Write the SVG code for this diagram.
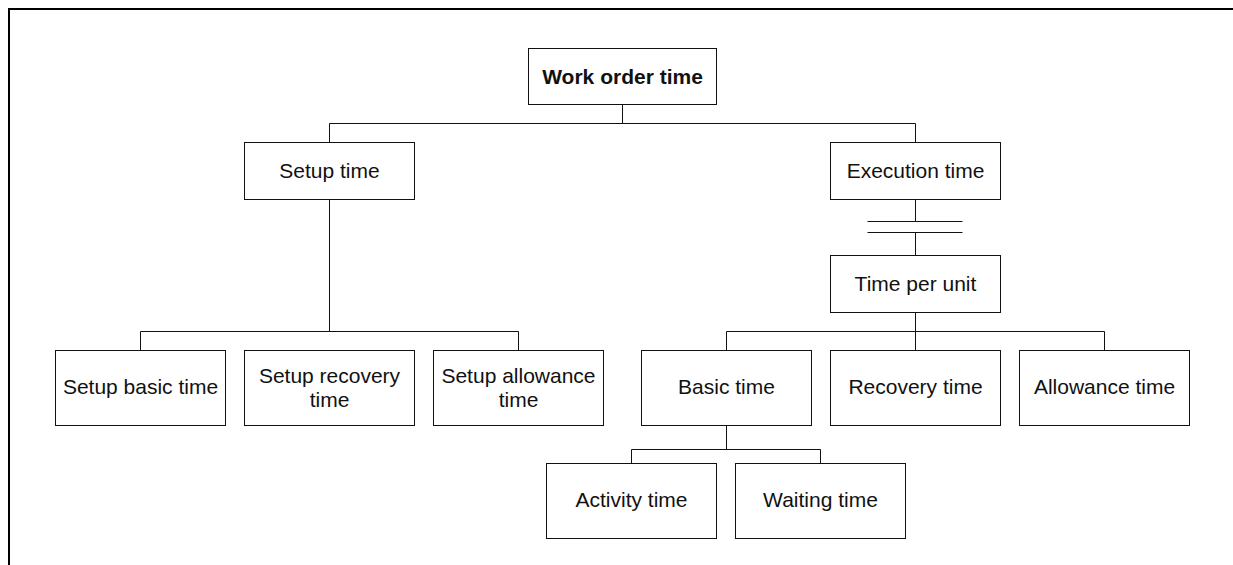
<svg xmlns="http://www.w3.org/2000/svg" width="1233" height="565" viewBox="0 0 1233 565">
  <style>
    .box { fill: #ffffff; stroke: #111111; stroke-width: 1; }
    .lbl { font-family: "Liberation Sans", Arial, sans-serif; font-size: 21px; fill: #111111; text-anchor: middle; }
    .bold { font-weight: bold; }
    .wire { fill: none; stroke: #111111; stroke-width: 1; }
    .frame { fill: none; stroke: #000000; stroke-width: 2; }
  </style>
  <rect x="0" y="0" width="1233" height="565" fill="#ffffff"/>
  <!-- page frame: top and left edges -->
  <path class="frame" d="M9 565 V9 H1233"/>

  <g id="connectors">
    <!-- Work order time -> Setup / Execution -->
    <path class="wire" d="M622.5 104 V123.5 M329.5 123.5 H915.5 M329.5 123.5 V142.5 M915.5 123.5 V142.5"/>
    <!-- Execution time -> Time per unit, with break symbol -->
    <path class="wire" d="M915.5 199.5 V221.5 M867.5 221.5 H962.5 M867.5 232.5 H962.5 M915.5 232.5 V255.5"/>
    <!-- Setup time -> setup parts -->
    <path class="wire" d="M329.5 199.5 V331.5 M140.5 331.5 H518.5 M140.5 331.5 V350.5 M518.5 331.5 V350.5"/>
    <!-- Time per unit -> unit parts -->
    <path class="wire" d="M915.5 312.5 V350.5 M726.5 331.5 H1104.5 M726.5 331.5 V350.5 M1104.5 331.5 V350.5"/>
    <!-- Basic time -> activity / waiting -->
    <path class="wire" d="M726.5 425.5 V449.5 M631.5 449.5 H820.5 M631.5 449.5 V463.5 M820.5 449.5 V463.5"/>
  </g>

  <g id="work-order-time">
    <rect class="box" x="528.5" y="48.5" width="188" height="56"/>
    <text class="lbl bold" x="622.5" y="83.5">Work order time</text>
  </g>
  <g id="setup-time">
    <rect class="box" x="244.5" y="142.5" width="170" height="57"/>
    <text class="lbl" x="329.5" y="177.5">Setup time</text>
  </g>
  <g id="execution-time">
    <rect class="box" x="830.5" y="142.5" width="170" height="57"/>
    <text class="lbl" x="915.5" y="177.5">Execution time</text>
  </g>
  <g id="time-per-unit">
    <rect class="box" x="830.5" y="255.5" width="170" height="57"/>
    <text class="lbl" x="915.5" y="290.5">Time per unit</text>
  </g>

  <g id="setup-basic-time">
    <rect class="box" x="55.5" y="350.5" width="170" height="75"/>
    <text class="lbl" x="140.5" y="394">Setup basic time</text>
  </g>
  <g id="setup-recovery-time">
    <rect class="box" x="244.5" y="350.5" width="170" height="75"/>
    <text class="lbl" x="329.5" y="383">Setup recovery</text>
    <text class="lbl" x="329.5" y="406.5">time</text>
  </g>
  <g id="setup-allowance-time">
    <rect class="box" x="433.5" y="350.5" width="170" height="75"/>
    <text class="lbl" x="518.5" y="383">Setup allowance</text>
    <text class="lbl" x="518.5" y="406.5">time</text>
  </g>

  <g id="basic-time">
    <rect class="box" x="641.5" y="350.5" width="170" height="75"/>
    <text class="lbl" x="726.5" y="394">Basic time</text>
  </g>
  <g id="recovery-time">
    <rect class="box" x="830.5" y="350.5" width="170" height="75"/>
    <text class="lbl" x="915.5" y="394">Recovery time</text>
  </g>
  <g id="allowance-time">
    <rect class="box" x="1019.5" y="350.5" width="170" height="75"/>
    <text class="lbl" x="1104.5" y="394">Allowance time</text>
  </g>

  <g id="activity-time">
    <rect class="box" x="546.5" y="463.5" width="170" height="75"/>
    <text class="lbl" x="631.5" y="507">Activity time</text>
  </g>
  <g id="waiting-time">
    <rect class="box" x="735.5" y="463.5" width="170" height="75"/>
    <text class="lbl" x="820.5" y="507">Waiting time</text>
  </g>
</svg>
